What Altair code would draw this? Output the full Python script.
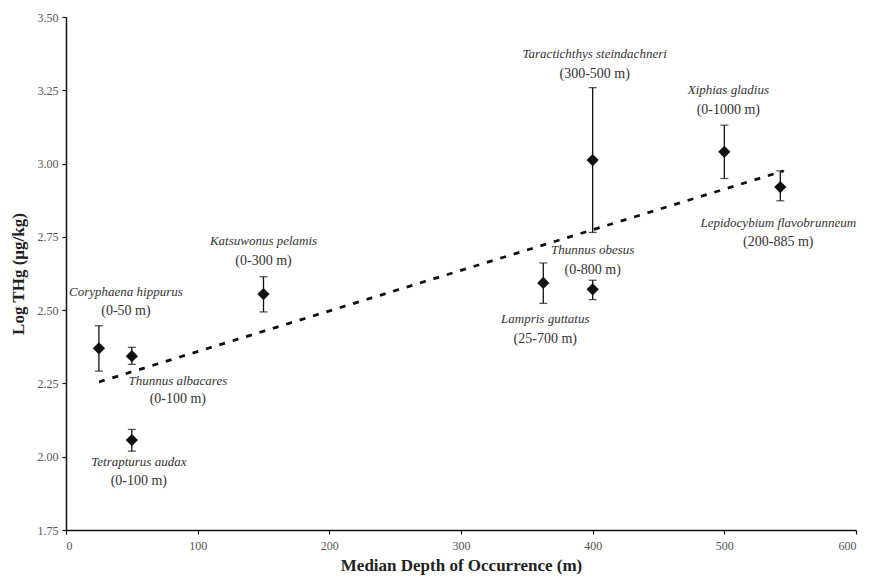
import altair as alt
import pandas as pd

# ---- data ----
species = ["Coryphaena hippurus", "Thunnus albacares", "Tetrapturus audax",
           "Katsuwonus pelamis", "Lampris guttatus", "Thunnus obesus",
           "Taractichthys steindachneri", "Xiphias gladius",
           "Lepidocybium flavobrunneum"]
depth_ranges = ["(0-50 m)", "(0-100 m)", "(0-100 m)", "(0-300 m)", "(25-700 m)",
                "(0-800 m)", "(300-500 m)", "(0-1000 m)", "(200-885 m)"]
median_depth = [25, 50, 50, 150, 362.5, 400, 400, 500, 542.5]
log_thg = [2.370, 2.343, 2.057, 2.555, 2.593, 2.571, 3.012, 3.040, 2.920]
thg_low = [2.292, 2.315, 2.019, 2.494, 2.523, 2.536, 2.765, 2.949, 2.873]
thg_high = [2.447, 2.373, 2.093, 2.614, 2.661, 2.602, 3.259, 3.131, 2.975]

trend_depth = [25, 545]
trend_thg = [2.255, 2.975]

x_ticks = [0, 100, 200, 300, 400, 500, 600]
y_ticks = [1.75, 2.00, 2.25, 2.50, 2.75, 3.00, 3.25, 3.50]

# label placement (pixel offsets from the point): dx, dy species, dy range
label_offsets = {
    "Coryphaena hippurus": (27, -56, -37),
    "Thunnus albacares": (46, 25, 43),
    "Tetrapturus audax": (7, 22, 41),
    "Katsuwonus pelamis": (0, -53, -33),
    "Lampris guttatus": (2, 36, 56),
    "Thunnus obesus": (0, -39, -19),
    "Taractichthys steindachneri": (2, -106, -86),
    "Xiphias gladius": (4, -62, -42),
    "Lepidocybium flavobrunneum": (-2, 36, 55),
}

df = pd.DataFrame({
    "species": species,
    "range": depth_ranges,
    "depth": median_depth,
    "thg": log_thg,
    "low": thg_low,
    "high": thg_high,
})
trend = pd.DataFrame({"depth": trend_depth, "thg": trend_thg})

FONT = "Liberation Serif"
xscale = alt.Scale(domain=[0, 600], nice=False, zero=False)
yscale = alt.Scale(domain=[1.75, 3.5], nice=False, zero=False)

x_axis = alt.Axis(values=x_ticks, title="Median Depth of Occurrence (m)", grid=False,
                  domainColor="#111", domainWidth=1.5, tickColor="#111", tickWidth=1.2,
                  tickSize=4, labelPadding=6, labelFont=FONT, labelFontSize=12,
                  labelColor="#555", titleFont=FONT, titleFontSize=17,
                  titleFontWeight="bold", titleColor="#222", titleY=35,
                  titleBaseline="middle", format="d")
y_axis = alt.Axis(values=y_ticks, title="Log THg (µg/kg)", grid=False,
                  domainColor="#111", domainWidth=1.5, tickColor="#111", tickWidth=1.2,
                  tickSize=4, labelPadding=4, labelFont=FONT, labelFontSize=12,
                  labelColor="#555", titleFont=FONT, titleFontSize=17,
                  titleFontWeight="bold", titleColor="#222", titleX=-48,
                  titleBaseline="middle", format=".2f")


def X(field="depth"):
    return alt.X(f"{field}:Q", scale=xscale, axis=x_axis)


def Y(field):
    return alt.Y(f"{field}:Q", scale=yscale, axis=y_axis)


base = alt.Chart(df)

trend_line = alt.Chart(trend).mark_line(
    color="#111", strokeWidth=2.8, strokeDash=[6, 8]
).encode(x=X(), y=Y("thg"))

err_rule = base.mark_rule(color="#111", strokeWidth=1.3).encode(
    x=X(), y=Y("low"), y2="high:Q")
cap_low = base.mark_tick(orient="horizontal", size=8, thickness=1.3,
                         color="#111").encode(x=X(), y=Y("low"))
cap_high = base.mark_tick(orient="horizontal", size=8, thickness=1.3,
                          color="#111").encode(x=X(), y=Y("high"))
points = base.mark_point(shape="diamond", filled=True, size=150, color="#111",
                         opacity=1).encode(x=X(), y=Y("thg"))

layers = [trend_line, err_rule, cap_low, cap_high, points]
for sp, (dx, dy1, dy2) in label_offsets.items():
    sub = base.transform_filter(alt.datum.species == sp)
    layers.append(sub.mark_text(font=FONT, fontStyle="italic", fontSize=13,
                                color="#333", align="center", baseline="middle",
                                dx=dx, dy=dy1).encode(
        x=X(), y=Y("thg"), text="species:N"))
    layers.append(sub.mark_text(font=FONT, fontSize=14,
                                color="#333", align="center", baseline="middle",
                                dx=dx, dy=dy2).encode(
        x=X(), y=Y("thg"), text="range:N"))

chart = alt.layer(*layers).properties(
    width=790, height=513,
    autosize=alt.AutoSizeParams(type="none"),
    padding={"left": 58, "top": 9, "right": 8, "bottom": 46},
).configure(background="white").configure_view(stroke=None)

chart.save("out.html", embed_options={"renderer": "svg", "actions": False})
